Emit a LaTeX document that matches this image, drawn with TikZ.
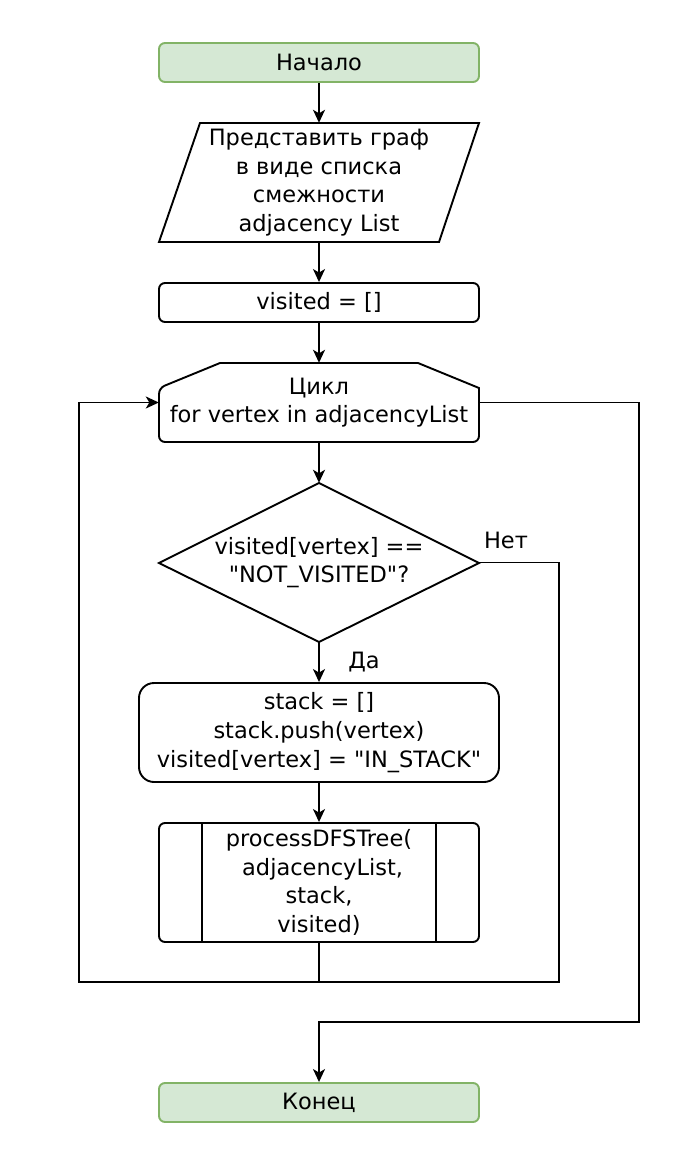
\documentclass[tikz,border=0pt]{standalone}
\usepackage{fontspec}
\setmainfont{DejaVu Sans}[Ligatures=TeXOff]
\usetikzlibrary{shapes.geometric,arrows.meta,calc}
\definecolor{termfill}{HTML}{D5E8D4}
\definecolor{termline}{HTML}{82B366}
\newcommand{\dq}{\symbol{34}}
\tikzset{
  txt/.style={font=\fontsize{22.5}{28.7}\selectfont, align=center, text=black},
  shp/.style={draw=black, line width=1.9pt},
  term/.style={txt, draw=termline, fill=termfill, line width=1.9pt, rounded corners=6pt, minimum width=320pt, minimum height=39pt, inner sep=0pt},
  proc/.style={txt, shp, rounded corners=6pt, minimum width=320pt, inner sep=0pt},
  ghost/.style={txt, minimum width=320pt, inner sep=0pt},
  arr/.style={line width=1.9pt, -{Stealth[length=13pt,width=12pt,inset=3.5pt]}},
  ln/.style={line width=1.9pt},
  lbl/.style={font=\fontsize{22.5}{26}\selectfont, text=black}
}
\begin{document}
\begin{tikzpicture}[x=1pt,y=-1pt]
\path[use as bounding box] (0,0) rectangle (698,1150);

\node[term] (start) at (319,62.5) {Начало};

% parallelogram
\draw[shp] (200,123) -- (479,123) -- (439,242) -- (159,242) -- cycle;
\node[ghost, minimum height=119pt] (input) at (319,182.5) {Представить граф\\в виде списка\\смежности\\adjacency List};

\node[proc, minimum height=39pt] (vis) at (319,302.5) {visited = []};

% loop header
\draw[shp, rounded corners=6pt] (159,442) -- (159,388) [sharp corners]-- (220,363) -- (418,363) -- (479,388) [rounded corners=6pt]-- (479,442) -- cycle;
\node[ghost, minimum height=79pt] (loop) at (319,402.5) {Цикл\\for vertex in adjacencyList};

% decision
\draw[shp] (319,483) -- (479,563) -- (319,642) -- (159,563) -- cycle;
\node[ghost, minimum height=159pt] (dec) at (319,562.5) {visited[vertex] ==\\\dq NOT\_VISITED\dq ?};

\node[proc, rounded corners=15pt, minimum width=360pt, minimum height=99pt] (stk) at (319,732.5) {stack = []\\stack.push(vertex)\\visited[vertex] = \dq IN\_STACK\dq};

\node[proc, minimum height=119pt] (pdfs) at (319,882.5) {processDFSTree(\\\ adjacencyList,\\stack,\\visited)};
\draw[ln] ($(pdfs.north west)+(44,0)$) -- ($(pdfs.south west)+(44,0)$);
\draw[ln] ($(pdfs.north east)+(-44,0)$) -- ($(pdfs.south east)+(-44,0)$);

\node[term] (fin) at (319,1102.5) {Конец};

\coordinate (m) at (319,982);
\coordinate (bl) at (79,982);
\coordinate (br) at (559,982);
\coordinate (ex) at (639,1022);

\draw[arr] (start) -- (input);
\draw[arr] (input) -- (vis);
\draw[arr] (vis) -- (loop);
\draw[arr] (loop) -- (dec);
\draw[arr] (dec) -- (stk);
\draw[arr] (stk) -- (pdfs);
\draw[ln] (pdfs) -- (m);
\draw[arr] (dec.east) -| (br) -- (bl) |- (loop.west);
\draw[arr] (loop.east) -| (ex) -| (fin.north);

\node[lbl] (no) at (506,540) {Нет};
\node[lbl] (yes) at (364,662) {Да};
\end{tikzpicture}
\end{document}
